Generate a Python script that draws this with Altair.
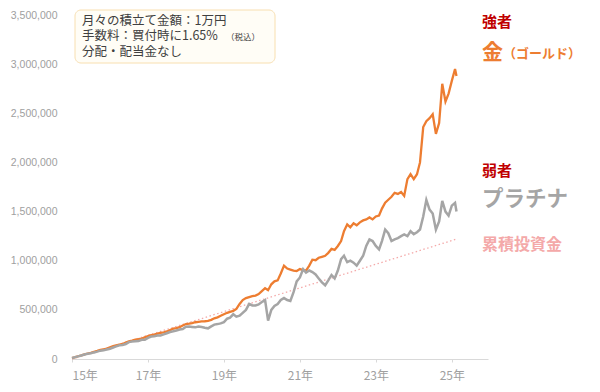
import altair as alt
import pandas as pd

# monthly valuation (thousand yen), Jan 2015 .. Feb 2025 + mid Feb 2025
dates = pd.date_range("2015-01-01", "2025-02-01", freq="MS").strftime("%Y-%m-%dT00:00:00").tolist() + ["2025-02-15T00:00:00"]

gold_k = [
    10, 19, 28, 37, 47, 56, 63, 73, 82, 92, 99, 106,
    118, 130, 138, 147, 153, 168, 180, 186, 196, 201, 208, 220,
    232, 242, 248, 258, 266, 272, 280, 294, 308, 314, 324, 340,
    356, 360, 366, 374, 378, 382, 384, 388, 398, 414, 424, 440,
    455, 470, 480, 490, 510, 560, 600, 620, 630, 640, 645, 660,
    690, 720, 700, 760, 790, 800, 870, 950, 920, 910, 900, 895,
    915, 905, 900, 950, 1010, 1005, 1030, 1040, 1050, 1080, 1120, 1110,
    1150, 1200, 1300, 1370, 1340, 1380, 1360, 1390, 1410, 1420, 1440, 1420,
    1450, 1460, 1530, 1590, 1620, 1650, 1690, 1680, 1700, 1660, 1830, 1880,
    1830, 1880, 2000, 2360, 2420, 2450, 2490, 2290, 2400, 2800, 2620, 2700,
    2830, 2950, 2880,
]

plat_k = [
    10, 19, 27, 36, 45, 53, 58, 67, 75, 85, 88, 96,
    104, 117, 128, 140, 142, 152, 172, 178, 180, 182, 195, 196,
    215, 228, 232, 240, 240, 250, 262, 275, 282, 290, 300, 305,
    328, 330, 326, 322, 330, 326, 318, 312, 332, 350, 355, 362,
    375, 410, 420, 455, 430, 440, 470, 500, 560, 545, 545, 555,
    580, 600, 390, 500, 540, 560, 600, 620, 600, 590, 680, 790,
    830, 915, 880, 900, 885, 860, 820, 780, 750, 800, 855, 820,
    900, 1016, 1050, 985, 1000, 980, 950, 1000, 1050, 1150, 1217, 1200,
    1150, 1116, 1200, 1317, 1280, 1200, 1217, 1230, 1250, 1267, 1250, 1300,
    1270, 1290, 1317, 1450, 1619, 1520, 1480, 1317, 1400, 1609, 1500, 1458,
    1560, 1589, 1500,
]

invest_dates = ["2015-01-01T00:00:00", "2025-02-15T00:00:00"]
invest_yen = [0, 1220000]

y_ticks = [0, 500000, 1000000, 1500000, 2000000, 2500000, 3000000, 3500000]
x_tick_years = [2015, 2017, 2019, 2021, 2023, 2025]

FONT = "Noto Sans CJK JP"
GOLD = "#ED7D31"
PLAT = "#A5A5A5"
PINK = "#F4A9A9"

df = pd.DataFrame({
    "date": dates,
    "gold": [v * 1000 for v in gold_k],
    "plat": [v * 1000 for v in plat_k],
})
inv = pd.DataFrame({"date": invest_dates, "value": invest_yen})

xscale = alt.Scale(domain=["2015-01-01T00:00:00", "2025-12-15T00:00:00"])
yscale = alt.Scale(domain=[0, 3500000], nice=False)

xaxis = alt.Axis(
    values=[alt.DateTime(year=y, month=1, date=1) for y in x_tick_years],
    format="%y年", title=None, grid=False,
    domainColor="#d9d9d9", tickColor="#d9d9d9", tickSize=3,
    labelColor="#a0a0a0", labelFontSize=12, labelPadding=8, labelFont=FONT,
)
yaxis = alt.Axis(
    values=y_ticks, format=",d", title=None, grid=False, domain=False, ticks=False,
    labelColor="#a0a0a0", labelFontSize=10.5, labelPadding=15, labelFont="Liberation Sans",
)

base = alt.Chart(df)

invest_line = alt.Chart(inv).mark_line(color=PINK, strokeWidth=1.3, strokeDash=[1.5, 2.5]).encode(
    x=alt.X("date:T", scale=xscale, axis=xaxis),
    y=alt.Y("value:Q", scale=yscale, axis=yaxis),
)
gold_line = base.mark_line(color=GOLD, strokeWidth=2.3).encode(
    x=alt.X("date:T", scale=xscale),
    y=alt.Y("gold:Q", scale=yscale),
)
plat_line = base.mark_line(color=PLAT, strokeWidth=2.5).encode(
    x=alt.X("date:T", scale=xscale),
    y=alt.Y("plat:Q", scale=yscale),
)

one = pd.DataFrame({"a": [0]})

box = alt.Chart(one).mark_rect(
    fill="#FFFDF6", stroke="#F8DFB0", strokeWidth=1, cornerRadius=6
).encode(x=alt.value(3), x2=alt.value(203), y=alt.value(-5), y2=alt.value(48))


def label(text, x, y, size, color, bold=False):
    return alt.Chart(pd.DataFrame({"t": [text]})).mark_text(
        align="left", baseline="middle", font=FONT, fontSize=size, color=color,
        fontWeight="bold" if bold else "normal",
    ).encode(x=alt.value(x), y=alt.value(y), text="t:N")


texts = [
    label("月々の積立て金額：1万円", 10, 5.5, 12.5, "#404040"),
    label("手数料：買付時に1.65%", 10, 21, 12.5, "#404040"),
    label("（税込）", 154, 22, 8.5, "#404040"),
    label("分配・配当金なし", 10, 37, 12.5, "#404040"),
    label("強者", 410, 6.5, 15, "#C00000", True),
    label("金", 410, 37.5, 21, GOLD, True),
    label("（ゴールド）", 431, 38.5, 13, GOLD, True),
    label("弱者", 410, 156, 15, "#C00000", True),
    label("プラチナ", 410, 185, 21.5, PLAT, True),
    label("累積投資金", 410, 229.5, 16, PINK, True),
]

chart = alt.layer(invest_line, gold_line, plat_line, box, *texts).properties(
    width=416, height=344,
    padding={"left": 64, "top": 7, "right": 104, "bottom": 25},
    autosize=alt.AutoSizeParams(type="none"),
).configure(font=FONT).configure_view(stroke=None)

chart.save("out.html", embed_options={"renderer": "svg", "actions": False})
